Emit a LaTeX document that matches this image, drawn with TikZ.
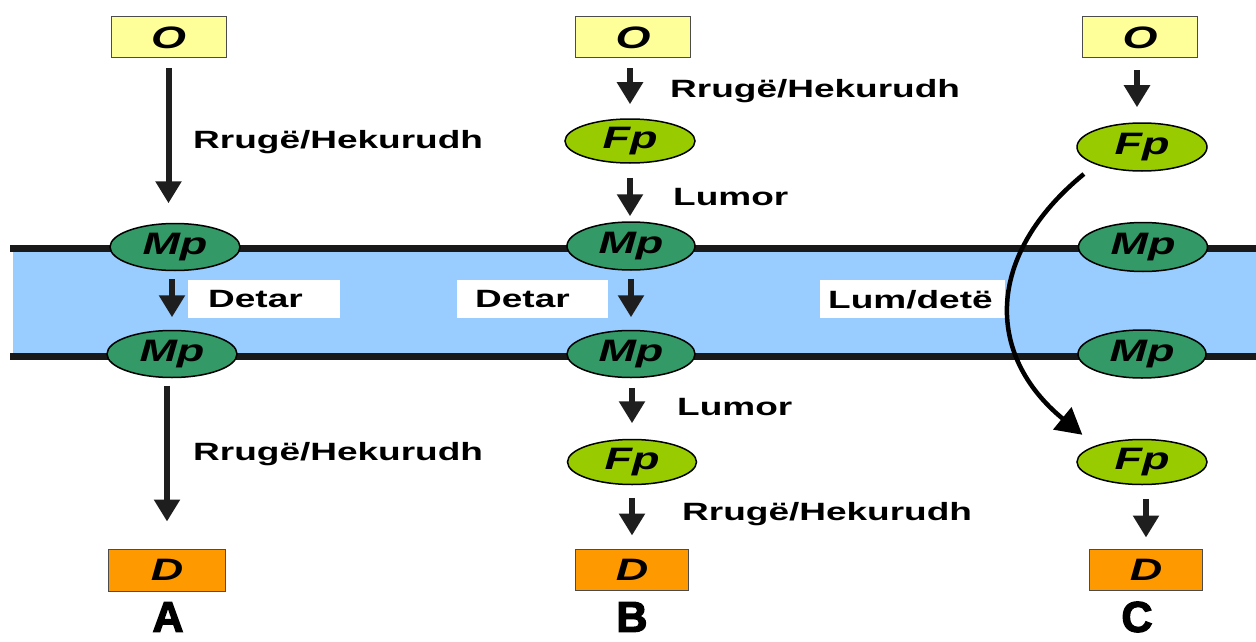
\documentclass[tikz,border=0pt]{standalone}
\usepackage{fontspec}
\setmainfont{Liberation Sans}
% wide sans faces for the route labels and node letters
\newfontfamily\widefont{Liberation Sans}[FakeStretch=1.48]
\newfontfamily\tagfont{Liberation Sans}[FakeStretch=1.45]
\newfontface\colfont{Liberation Sans Bold}[FakeBold=3]
\usetikzlibrary{shapes.geometric,arrows.meta}

\definecolor{origin}{HTML}{FFFF99}
\definecolor{dest}{HTML}{FF9900}
\definecolor{fpgreen}{HTML}{99CC00}
\definecolor{mpgreen}{HTML}{339966}
\definecolor{sea}{HTML}{99CCFF}
\definecolor{arrowgray}{HTML}{1E1E1E}

\begin{document}
\begin{tikzpicture}[x=1pt,y=-1pt,
  endbox/.style={draw=black!70, line width=1pt, minimum width=115pt, minimum height=41pt,
    inner sep=0pt, font=\tagfont\bfseries\itshape\fontsize{31}{31}\selectfont},
  obox/.style={endbox, fill=origin},
  dbox/.style={endbox, fill=dest},
  port/.style={ellipse, draw=black, line width=1.5pt, minimum width=130pt, minimum height=47pt,
    inner sep=0pt, font=\tagfont\bfseries\itshape\fontsize{31}{31}\selectfont},
  mp/.style={port, fill=mpgreen},
  fp/.style={port, fill=fpgreen},
  route/.style={anchor=base west, inner sep=0pt,
    font=\widefont\bfseries\fontsize{25}{30}\selectfont},
  seabox/.style={fill=white, anchor=north west, minimum height=38pt, inner ysep=0pt,
    align=left, font=\widefont\bfseries\fontsize{25}{30}\selectfont},
  coltag/.style={inner sep=0pt, font=\colfont\fontsize{43}{43}\selectfont},
  arr/.style={draw=arrowgray, line width=6pt, -{Triangle[width=25pt,length=22pt]}},
  curvearr/.style={draw=black, line width=4.5pt, -{Triangle[width=28pt,length=26pt]}}
]
\fill[white] (0,0) rectangle (1256,642);
\useasboundingbox (0,0) rectangle (1256,642);

% sea band with its two coast lines
\fill[sea] (13,251) rectangle (1256,353);
\draw[black!90, line width=7pt] (10,248) -- (1256,248);
\draw[black!90, line width=7pt] (10,356) -- (1256,356);

% column A
\node[obox] (oA) at (168.5,37.5) {O};
\node[mp] (mpA1) at (175,247) {Mp};
\node[mp] (mpA2) at (172,354) {Mp};
\node[dbox, minimum width=117pt, minimum height=42pt] (dA) at (167,570) {D};
\node[coltag] (tA) at (168,617) {A};

% column B
\node[obox] (oB) at (633,37.5) {O};
\node[fp, minimum height=44pt] (fpB1) at (630,141) {Fp};
\node[mp, minimum width=128pt, minimum height=48pt] (mpB1) at (631,246) {Mp};
\node[mp, minimum width=128pt] (mpB2) at (631,354) {Mp};
\node[fp, minimum width=129pt, minimum height=45pt] (fpB2) at (632,462) {Fp};
\node[dbox, minimum width=113pt] (dB) at (632,570) {D};
\node[coltag] (tB) at (632,617) {B};

% column C
\node[obox] (oC) at (1140,37.5) {O};
\node[fp, minimum height=48pt] (fpC1) at (1142,147) {Fp};
\node[mp, minimum width=129pt, minimum height=49pt] (mpC1) at (1143,247) {Mp};
\node[mp, minimum width=128pt, minimum height=48pt] (mpC2) at (1142,354) {Mp};
\node[fp, minimum height=45pt] (fpC2) at (1142,462) {Fp};
\node[dbox, minimum width=113pt] (dC) at (1146,570) {D};
\node[coltag] (tC) at (1137,617) {C};

% route labels
\node[route] (lA1) at (193,148) {Rrugë/Hekurudh};
\node[route] (lA3) at (193,460) {Rrugë/Hekurudh};
\node[route] (lB1) at (670,98) {Rrugë/Hekurudh};
\node[route] (lB2) at (673,205) {Lumor};
\node[route] (lB4) at (677,415) {Lumor};
\node[route] (lB5) at (682,520) {Rrugë/Hekurudh};
\node[seabox, inner xsep=20pt, text width=112pt] (sA) at (188,280) {Detar};
\node[seabox, inner xsep=18pt, text width=115pt] (sB) at (457,280) {Detar};
\node[seabox, inner xsep=8pt, text width=169pt] (sC) at (820,280) {Lum/detë};

% connectors, column A
\draw[arr, shorten <=10pt, shorten >=19.5pt] (oA.south) -- (oA.south |- mpA1.north);
\draw[arr, shorten <=8pt, shorten >=12.5pt] (mpA2.north |- mpA1.south) -- (mpA2.north);
\draw[arr, shorten <=7.5pt, shorten >=27pt] (dA.north |- mpA2.south) -- (dA.north);

% connectors, column B
\draw[arr, shorten <=10pt, shorten >=14pt] (fpB1.north |- oB.south) -- (fpB1.north);
\draw[arr, shorten <=14pt, shorten >=5pt] (fpB1.south) -- (fpB1.south |- mpB1.north);
\draw[arr, shorten <=8pt, shorten >=12.5pt] (mpB2.north |- mpB1.south) -- (mpB2.north);
\draw[arr, shorten <=9.5pt, shorten >=15.5pt] (fpB2.north |- mpB2.south) -- (fpB2.north);
\draw[arr, shorten <=12.5pt, shorten >=13.5pt] (dB.north |- fpB2.south) -- (dB.north);

% connectors, column C
\draw[arr, shorten <=12pt, shorten >=15pt] (oC.south -| 1137,0) -- (fpC1.north -| 1137,0);
\draw[arr, shorten <=13.5pt, shorten >=11.5pt] (dC.north |- fpC2.south) -- (dC.north);
\draw[curvearr, shorten <=15pt, shorten >=17pt]
  (fpC1.south west) .. controls (985,255) and (985,355) .. (fpC2.north west);
\end{tikzpicture}
\end{document}
